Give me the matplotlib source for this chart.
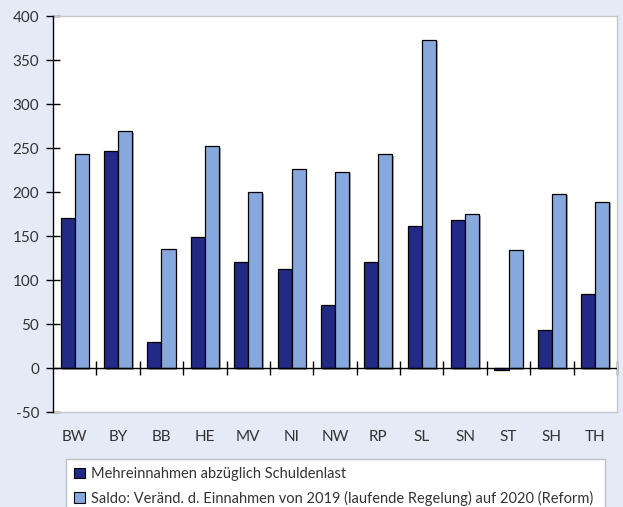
import matplotlib
matplotlib.use("Agg")
import matplotlib.pyplot as plt
import matplotlib.patheffects as pe
from matplotlib.patches import Patch
import numpy as np

laender = ["BW", "BY", "BB", "HE", "MV", "NI", "NW", "RP", "SL", "SN", "ST", "SH", "TH"]
mehreinnahmen = [171, 247, 29, 149, 121, 113, 72, 121, 161, 168, -2, 43, 84]
saldo = [243, 269, 135, 252, 200, 226, 223, 243, 373, 175, 134, 198, 189]
labels = ["Mehreinnahmen abzüglich Schuldenlast",
          "Saldo: Veränd. d. Einnahmen von 2019 (laufende Regelung) auf 2020 (Reform)"]
yticks = [-50, 0, 50, 100, 150, 200, 250, 300, 350, 400]

dark = "#232a85"
light = "#86a8dc"
bg = "#e4ebf7"
txt = "#333333"

plt.rcParams['font.family'] = ['Lato', 'DejaVu Sans']

fig = plt.figure(figsize=(6.23, 5.07), dpi=100, facecolor=bg)
ax = fig.add_axes([53/623, 1-412/507, 564/623, 396/507])

x = np.arange(len(laender))
w = 0.325
shadow = [pe.SimplePatchShadow(offset=(1.2, -1.2), shadow_rgbFace="#777777", alpha=0.6), pe.Normal()]
b1 = ax.bar(x - w/2, mehreinnahmen, w, color=dark, edgecolor="black", linewidth=0.9, zorder=3)
b2 = ax.bar(x + w/2, saldo, w, color=light, edgecolor="black", linewidth=0.9, zorder=3)
for b in list(b1) + list(b2):
    b.set_path_effects(shadow)

ax.set_xlim(-0.5, len(laender) - 0.5)
ax.set_ylim(-50, 400)
ax.set_yticks(yticks)
ax.set_yticklabels([str(v) for v in yticks])
ax.tick_params(axis='y', direction='inout', length=10, width=1, color='black',
               labelsize=11, labelcolor=txt, pad=5)
ax.set_xticks(x)
ax.set_xticklabels(laender)
ax.tick_params(axis='x', length=0, labelsize=11, labelcolor=txt, pad=13)

for s in ['top', 'right', 'bottom']:
    ax.spines[s].set_color('#c8c8c8')
    ax.spines[s].set_linewidth(1)
ax.spines['left'].set_color('black')
ax.spines['left'].set_linewidth(1)
ax.spines['left'].set_zorder(5)

# Nulllinie mit Trennstrichen zwischen den Ländern
ax.axhline(0, color='black', linewidth=1, zorder=4)
sec = ax.secondary_xaxis(50/450)
sec.set_xticks(np.arange(len(laender)) + 0.5)
sec.set_xticklabels([])
sec.tick_params(direction='inout', length=10, width=1, color='black')
sec.spines['bottom'].set_visible(False)

handles = [Patch(facecolor=dark, edgecolor='black', linewidth=0.8),
           Patch(facecolor=light, edgecolor='black', linewidth=0.8)]
leg = fig.legend(handles, labels, loc='upper left',
                 bbox_to_anchor=(66/623, 1-459/507 - 0.2, 539/623, 0.2), mode='expand',
                 fontsize=10.5, frameon=True, fancybox=False, edgecolor='#c0c0c0',
                 facecolor='white', framealpha=1, handlelength=0.75, handleheight=0.75,
                 handletextpad=0.4, labelspacing=0.65, borderpad=0.55, borderaxespad=0)
for t in leg.get_texts():
    t.set_color(txt)

fig.savefig("out.png", dpi=100, facecolor=bg)
